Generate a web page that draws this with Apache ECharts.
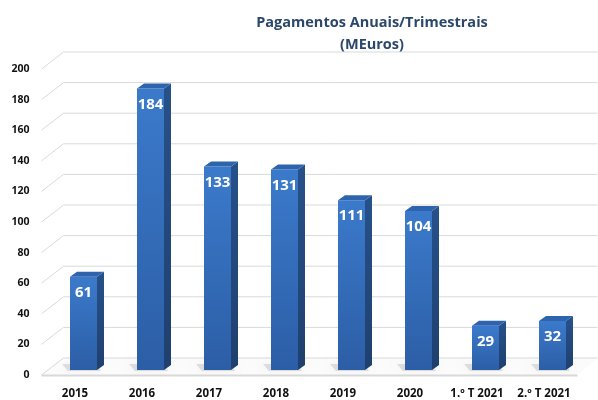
<!DOCTYPE html>
<html>
<head>
<meta charset="utf-8">
<script src="https://cdn.jsdelivr.net/npm/echarts@6/dist/echarts.min.js"></script>
<style>
html, body { margin: 0; padding: 0; background: #fff; }
#chart { width: 598px; height: 400px; }
</style>
</head>
<body>
<div id="chart"></div>
<script>
var categories = ['2015', '2016', '2017', '2018', '2019', '2020', '1.º T 2021', '2.º T 2021'];
var payments = [61, 184, 133, 131, 111, 104, 29, 32];
var yTicks = [0, 20, 40, 60, 80, 100, 120, 140, 160, 180, 200];

var FONT = 'Open Sans';
// fake 3d offsets
var WALL_DX = 22, WALL_DY = 17;
var BAR_DX = 8.5, BAR_DY = 5, BAR_W = 27, BAR_DEPTH_X = 7, BAR_DEPTH_Y = 5;

function PaymentsChart(){

}
PaymentsChart.prototype.init = function(){
    this.chart = echarts.init(document.getElementById('chart'));
    this.chart.setOption(this.buildOption(), true);
}
//back wall grid + floor
PaymentsChart.prototype.renderWall = function(params, api){
    var cs = params.coordSys;
    var y = api.coord([0, api.value(1)])[1];
    var x0 = cs.x, x1 = cs.x + cs.width;
    var line = {
        type: 'polyline',
        shape: { points: [[x0, y], [x0 + WALL_DX, y - WALL_DY], [x1 + WALL_DX - 2, y - WALL_DY]] },
        style: { stroke: '#d9d9d9', lineWidth: 1, fill: null }
    };
    if (api.value(1) !== 0) return line;
    return {
        type: 'group',
        children: [{
            type: 'polygon',
            shape: { points: [[x0, y], [x0 + WALL_DX, y - WALL_DY], [x1 + WALL_DX - 2, y - WALL_DY], [x1, y]] },
            style: { fill: '#fbfbfb', stroke: null }
        }, line, {
            type: 'line',
            shape: { x1: x0, y1: y + 0.5, x2: x1, y2: y + 0.5 },
            style: { stroke: '#d9d9d9', lineWidth: 2 }
        }]
    };
}
PaymentsChart.prototype.renderBar = function(params, api){
    var base = api.coord([api.value(0), 0]);
    var top = api.coord([api.value(0), api.value(1)]);
    var x0 = base[0] + BAR_DX - BAR_W / 2, x1 = x0 + BAR_W;
    var yb = base[1] - BAR_DY, yt = top[1] - BAR_DY;
    return {
        type: 'group',
        children: [{
            // soft floor shadow
            type: 'polygon',
            shape: { points: [[x0 - 2, yb + 1], [x0 - 8, yb - 6], [x1, yb - 6], [x1 + 4, yb + 1]] },
            style: { fill: 'rgba(0,0,0,0.10)', shadowBlur: 7, shadowColor: 'rgba(0,0,0,0.45)' }
        }, {
            type: 'rect',
            shape: { x: x0, y: yt, width: BAR_W, height: yb - yt },
            style: {
                fill: new echarts.graphic.LinearGradient(0, 0, 0, 1, [
                    { offset: 0, color: '#3b7acb' },
                    { offset: 1, color: '#2c5ea6' }
                ])
            }
        }, {
            type: 'polygon',
            shape: { points: [[x1, yt], [x1 + BAR_DEPTH_X, yt - BAR_DEPTH_Y], [x1 + BAR_DEPTH_X, yb - BAR_DEPTH_Y], [x1, yb]] },
            style: {
                fill: new echarts.graphic.LinearGradient(0, 0, 0, 1, [
                    { offset: 0, color: '#27518a' },
                    { offset: 1, color: '#1f406e' }
                ])
            }
        }, {
            type: 'polygon',
            shape: { points: [[x0, yt], [x1, yt], [x1 + BAR_DEPTH_X, yt - BAR_DEPTH_Y], [x0 + BAR_DEPTH_X, yt - BAR_DEPTH_Y]] },
            style: { fill: '#2e64ae' }
        }, {
            type: 'text',
            style: {
                text: String(api.value(1)),
                x: (x0 + x1) / 2,
                y: yt + 16,
                align: 'center',
                verticalAlign: 'middle',
                fill: '#fff',
                fontFamily: FONT,
                fontWeight: 'bold',
                fontSize: 15
            }
        }]
    };
}
PaymentsChart.prototype.buildOption = function(){
    return {
        animation: false,
        title: {
            text: 'Pagamentos Anuais/Trimestrais\n(MEuros)',
            left: 367,
            top: 7,
            textAlign: 'center',
            textStyle: {
                color: '#2b4769',
                fontFamily: FONT,
                fontWeight: 'bold',
                fontSize: 14.5,
                lineHeight: 22
            }
        },
        grid: {
            left: 41.5,
            right: 20.5,
            top: 69,
            bottom: 25
        },
        xAxis: {
            type: 'category',
            data: categories,
            axisLine: { show: false },
            axisTick: { show: false },
            axisLabel: {
                margin: 13,
                color: '#111',
                fontFamily: FONT,
                fontWeight: 'bold',
                fontSize: 11.5,
                interval: 0
            }
        },
        yAxis: {
            type: 'value',
            min: 0,
            max: 200,
            interval: 20,
            axisLine: { show: false },
            axisTick: { show: false },
            splitLine: { show: false },
            axisLabel: {
                margin: 12,
                color: '#111',
                fontFamily: FONT,
                fontWeight: 'bold',
                fontSize: 10.5
            }
        },
        series: [{
            type: 'custom',
            z: 1,
            renderItem: this.renderWall,
            data: yTicks.map(function(t){ return [0, t]; })
        }, {
            type: 'custom',
            z: 2,
            renderItem: this.renderBar,
            data: payments.map(function(v, i){ return [i, v]; })
        }]
    };
}
var payments_chart = new PaymentsChart();
payments_chart.init();
</script>
</body>
</html>
